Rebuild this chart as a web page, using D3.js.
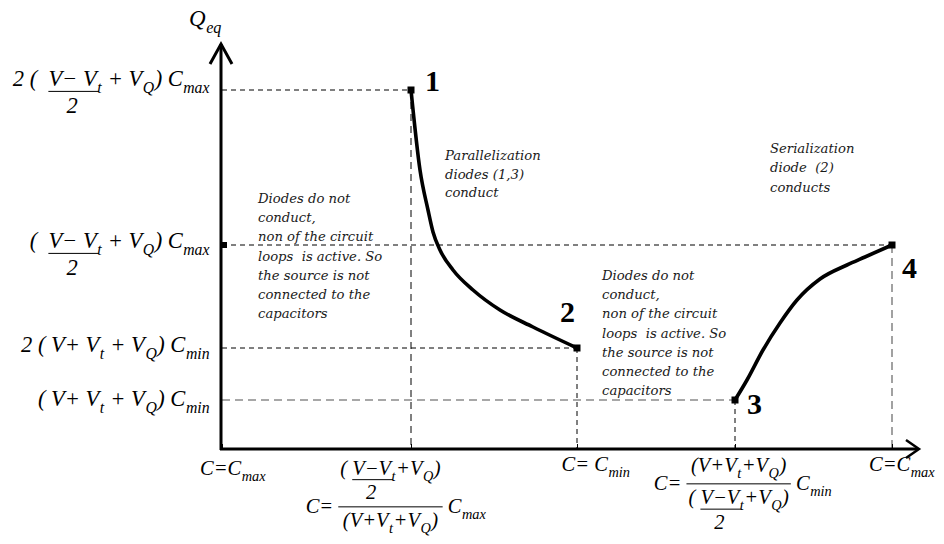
<!DOCTYPE html>
<html><head><meta charset="utf-8">
<script src="https://cdn.jsdelivr.net/npm/d3@7"></script>
<style>
html,body{margin:0;padding:0;background:#fff;}
svg{display:block;}
svg text{white-space:pre;}
</style></head><body>
<svg id="chart" width="944" height="544"></svg>
<script>
// ---- data -------------------------------------------------------------
// Operating points 1..4 (x: position along the capacitance sweep, q: equivalent charge)
const pointNames = ["1", "2", "3", "4"];
const pointX = [1.89, 3.55, 5.13, 6.70];
const pointQ = [3.59, 1.01, 0.49, 2.04];

// Parallelization branch, point 1 -> point 2
const branch12X = [1.89, 1.98, 2.06, 2.11, 2.18, 2.31, 2.51, 2.78, 3.11, 3.55];
const branch12Q = [3.59, 2.79, 2.39, 2.17, 1.99, 1.79, 1.59, 1.39, 1.22, 1.01];

// Serialization branch, point 3 -> point 4
const branch34X = [5.13, 5.25, 5.41, 5.58, 5.75, 5.98, 6.25, 6.43, 6.70];
const branch34Q = [0.49, 0.69, 0.99, 1.26, 1.49, 1.70, 1.84, 1.92, 2.04];

// Charge levels marked on the Q axis and their labels
const qLevels = [3.59, 2.04, 1.01, 0.49];
const qLabels = [
  "2 (  \\under{V\u2212 V_{t}}{2} + V_{Q}) C_{max}",
  "(  \\under{V\u2212 V_{t}}{2} + V_{Q}) C_{max}",
  "2 ( V+ V_{t} + V_{Q}) C_{min}",
  "( V+ V_{t} + V_{Q}) C_{min}"
];

// Capacitance positions on the C axis and their labels
const cTicks = [0, 1.89, 3.55, 5.13, 6.70];
const cLabels = [
  "C=C_{max}",
  "C= \\frac{( \\under{V\u2212V_{t}}{2}+V_{Q})}{(V+V_{t}+V_{Q})} C_{max}",
  "C= C_{min}",
  "C= \\frac{(V+V_{t}+V_{Q})}{( \\under{V\u2212V_{t}}{2}+V_{Q})} C_{min}",
  "C=C_{max}"
];

const axisTitle = "Q_{eq}";

// Region notes
const noteIdleA = ["Diodes do not", "conduct,", "non of the circuit", "loops  is active. So", "the source is not", "connected to the", "capacitors"];
const noteParallel = ["Parallelization", "diodes (1,3)", "conduct"];
const noteIdleB = ["Diodes do not", "conduct,", "non of the circuit", "loops  is active. So", "the source is not", "connected to the", "capacitors"];
const noteSerial = ["Serialization", "diode  (2)", "conducts"];

// ---- layout -----------------------------------------------------------
const svg = d3.select("#chart");
const x = d3.scaleLinear().domain([0, 6.93]).range([222, 915]);
const y = d3.scaleLinear().domain([0, 4.07]).range([449, 42]);
const x0 = x(0), y0 = y(0);

const MATH_FONT = "'Liberation Serif', 'Times New Roman', serif";
const NOTE_FONT = "'DejaVu Serif', serif";

// ---- tiny formula typesetter (text, _{sub}, \frac{a}{b}, \under{a}{b}) ----
function parseFormula(s) {
  let i = 0;
  function seq() {
    const out = []; let buf = "";
    const flush = () => { if (buf) { out.push({ k: "t", s: buf }); buf = ""; } };
    while (i < s.length) {
      if (s.startsWith("\\frac{", i) || s.startsWith("\\under{", i)) {
        flush();
        const kind = s.startsWith("\\frac{", i) ? "frac" : "under";
        i += kind === "frac" ? 6 : 7;
        const a = seq(); i += 2;
        const b = seq(); i += 1;
        out.push({ k: kind, a, b });
      } else if (s.startsWith("_{", i)) {
        flush(); i += 2;
        const a = seq(); i += 1;
        out.push({ k: "sub", a });
      } else if (s[i] === "}") {
        break;
      } else { buf += s[i]; i++; }
    }
    flush();
    return out;
  }
  return seq();
}

const measurer = svg.append("text").attr("font-family", MATH_FONT)
  .attr("font-style", "italic").attr("visibility", "hidden");
function measure(s, size) {
  measurer.attr("font-size", size).text(s);
  return measurer.node().getComputedTextLength();
}

function layoutSeq(nodes, size) {
  const parts = nodes.map(n => layoutNode(n, size));
  let w = 0, asc = 0, desc = 0;
  parts.forEach(p => { p.x0 = w; w += p.w; asc = Math.max(asc, p.asc); desc = Math.max(desc, p.desc); });
  return { w, asc, desc, draw: (g, px, py) => parts.forEach(p => p.draw(g, px + p.x0, py)) };
}
function layoutNode(n, size) {
  if (n.k === "t") {
    const w = measure(n.s, size);
    return { w, asc: 0.75 * size, desc: 0.22 * size,
      draw: (g, px, py) => g.append("text").attr("x", px).attr("y", py)
        .attr("font-size", size).text(n.s) };
  }
  if (n.k === "sub") {
    const b = layoutSeq(n.a, size * 0.7), sh = 0.3 * size;
    return { w: b.w + 1, asc: b.asc - sh, desc: b.desc + sh,
      draw: (g, px, py) => b.draw(g, px + 0.5, py + sh) };
  }
  if (n.k === "under") {
    const a = layoutSeq(n.a, size), b = layoutSeq(n.b, size);
    const w = Math.max(a.w, b.w);
    return { w, asc: a.asc, desc: 1.2 * size + b.desc,
      draw: (g, px, py) => {
        const ax = px + (w - a.w) / 2;
        a.draw(g, ax, py);
        g.append("line").attr("x1", ax).attr("x2", ax + a.w - 3)
          .attr("y1", py + 0.24 * size).attr("y2", py + 0.24 * size)
          .attr("stroke", "#000").attr("stroke-width", 1);
        b.draw(g, px + (w - b.w) / 2 - 3, py + 1.2 * size);
      } };
  }
  // fraction
  const a = layoutSeq(n.a, size), b = layoutSeq(n.b, size);
  const w = Math.max(a.w, b.w) + 4, axisH = 0.3 * size, ga = 3, gb = 5;
  return { w, asc: axisH + ga + a.desc + a.asc, desc: gb + b.asc + b.desc - axisH,
    draw: (g, px, py) => {
      const bar = py - axisH;
      a.draw(g, px + (w - a.w) / 2, bar - ga - a.desc);
      g.append("line").attr("x1", px).attr("x2", px + w).attr("y1", bar).attr("y2", bar)
        .attr("stroke", "#000").attr("stroke-width", 1);
      b.draw(g, px + (w - b.w) / 2, bar + gb + b.asc);
    } };
}
function formula(parent, str, size, px, py, anchor) {
  const box = layoutSeq(parseFormula(str), size);
  const g = parent.append("g").attr("font-family", MATH_FONT)
    .attr("font-style", "italic").attr("fill", "#000");
  const left = anchor === "end" ? px - box.w : anchor === "middle" ? px - box.w / 2 : px;
  box.draw(g, left, py);
  return box;
}

// ---- guide lines ------------------------------------------------------
const guides = svg.append("g").attr("fill", "none");
const dark = { stroke: "#000", width: 1, dash: "5,4" };
const grey = { stroke: "#8a8a8a", width: 1.6, dash: "8,5" };
function guide(x1, y1, x2, y2, st) {
  guides.append("line").attr("x1", x1).attr("y1", y1).attr("x2", x2).attr("y2", y2)
    .attr("stroke", st.stroke).attr("stroke-width", st.width).attr("stroke-dasharray", st.dash);
}
// horizontal levels to their points
guide(x0, y(qLevels[0]), x(pointX[0]), y(qLevels[0]), dark);
guide(x0, y(qLevels[1]), x(pointX[3]), y(qLevels[1]), dark);
guide(x0, y(qLevels[2]), x(pointX[1]), y(qLevels[2]), dark);
guide(x0, y(qLevels[3]), x(pointX[2]), y(qLevels[3]), grey);
// verticals down to the C axis
guide(x(pointX[0]), y(pointQ[0]), x(pointX[0]), y0, { stroke: "#000", width: 1, dash: "7,5" });
guide(x(pointX[1]), y(pointQ[1]), x(pointX[1]), y0, dark);
guide(x(pointX[2]), y(pointQ[2]), x(pointX[2]), y0, dark);
guide(x(pointX[3]), y(pointQ[3]), x(pointX[3]), y0, grey);

// ---- axes -------------------------------------------------------------
const tickAxis = d3.axisBottom(x).tickValues(cTicks).tickSize(-5).tickFormat("");
const tg = svg.append("g").attr("transform", `translate(0,${y0})`).call(tickAxis);
tg.select(".domain").remove();
tg.selectAll(".tick line").attr("stroke", "#000").attr("stroke-width", 1);

const axes = svg.append("g").attr("fill", "none").attr("stroke", "#000");
axes.append("line").attr("x1", x0 - 2).attr("y1", y0).attr("x2", 918).attr("y2", y0).attr("stroke-width", 3);
axes.append("line").attr("x1", x0 - 1).attr("y1", y0 + 1).attr("x2", x0 - 1).attr("y2", 44).attr("stroke-width", 3);
axes.append("path").attr("d", `M${x0 - 12},64 L${x0 - 1},44 L${x0 + 10},64`).attr("stroke-width", 3);
axes.append("path").attr("d", `M906,${y0 - 9} L919,${y0} L906,${y0 + 9}`).attr("stroke-width", 2.5);
// small mark on the Q axis at the second level
svg.append("rect").attr("x", x0).attr("y", y(qLevels[1]) - 3).attr("width", 5).attr("height", 6).attr("fill", "#000");

// ---- curves -----------------------------------------------------------
const line = d3.line().x(d => x(d[0])).y(d => y(d[1])).curve(d3.curveMonotoneX);
const curves = svg.append("g").attr("fill", "none").attr("stroke", "#000")
  .attr("stroke-width", 3.6).attr("stroke-linecap", "round");
curves.append("path").attr("d", line(d3.zip(branch12X, branch12Q)));
curves.append("path").attr("d", line(d3.zip(branch34X, branch34Q)));

// points
svg.append("g").selectAll("rect").data(pointX).join("rect")
  .attr("x", (d) => x(d) - 3.5).attr("y", (d, i) => y(pointQ[i]) - 3.5)
  .attr("width", 7).attr("height", 7).attr("fill", "#000");

const nameOffset = [[14, 1], [-17, -26], [12, 14], [10, 33]];
svg.append("g").selectAll("text").data(pointNames).join("text")
  .attr("x", (d, i) => x(pointX[i]) + nameOffset[i][0])
  .attr("y", (d, i) => y(pointQ[i]) + nameOffset[i][1])
  .attr("font-family", MATH_FONT).attr("font-weight", "bold").attr("font-size", 30)
  .text(d => d);

// ---- axis labels ------------------------------------------------------
const qShift = [-4, 3, 4, 6];
qLabels.forEach((s, i) => formula(svg, s, 22.5, 210, y(qLevels[i]) + qShift[i], "end"));

const cNudge = [[11, 26], [-15, 64], [19, 22], [8, 41], [10, 22]];
cLabels.forEach((s, i) => formula(svg, s, 20.5, x(cTicks[i]) + cNudge[i][0], y0 + cNudge[i][1], "middle"));

formula(svg, axisTitle, 23, 189, 26, "start");

// ---- notes ------------------------------------------------------------
function note(lines, px, py, step) {
  svg.append("text").attr("font-family", NOTE_FONT).attr("font-style", "italic")
    .attr("font-size", 13.2).attr("fill", "#1a1a1a")
    .selectAll("tspan").data(lines).join("tspan")
    .attr("x", px).attr("y", (d, i) => py + i * step).text(d => d);
}
note(noteIdleA, 258, 203, 19.2);
note(noteParallel, 445, 160, 18.6);
note(noteIdleB, 602, 280, 19.2);
note(noteSerial, 770, 153, 19.4);
</script>
</body></html>
